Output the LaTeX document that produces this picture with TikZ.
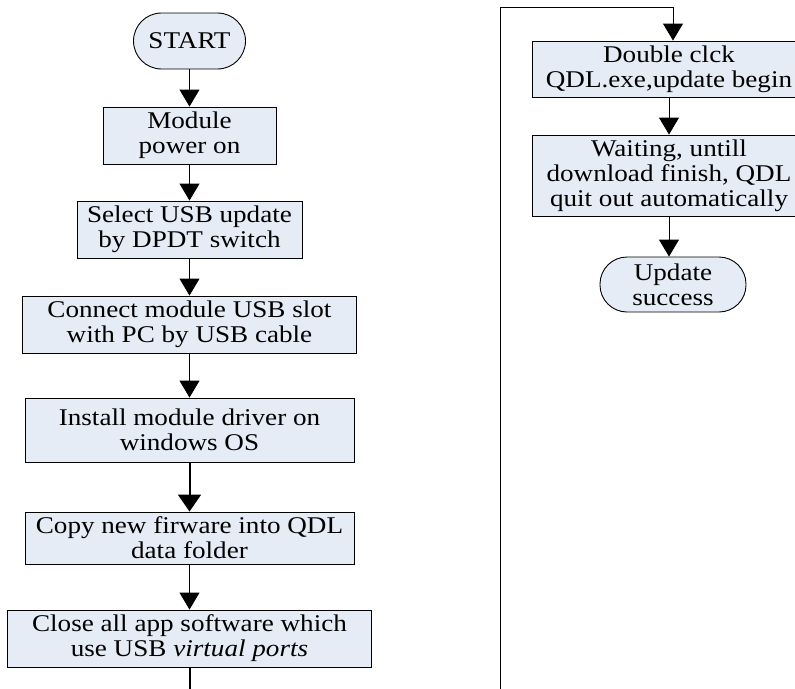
\documentclass[tikz,border=0pt]{standalone}
\usepackage{fontspec}
\setmainfont{Liberation Serif}[FakeStretch=1.13]
\usetikzlibrary{arrows.meta}
\definecolor{boxfill}{RGB}{230,236,246}
\begin{document}
\begin{tikzpicture}[x=1pt,y=-1pt,
  box/.style={draw=black, line width=0.9pt, fill=boxfill, inner sep=0pt,
    align=center, font=\fontsize{24}{25}\selectfont},
  term/.style={box, rounded corners=#1},
  term/.default=28pt,
  flowarrow/.style={line width=0.9pt, -{Triangle[width=20pt,length=17pt]}},
  heavyarrow/.style={line width=2pt, -{Triangle[width=23pt,length=17pt]}},
  plainline/.style={line width=0.9pt},
  heavyline/.style={line width=2pt}]
\useasboundingbox (0,0) rectangle (795,688);
\clip (0,0) rectangle (795,688);

% left column
\node[term=28pt, minimum width=112pt, minimum height=56pt] (start) at (189.5,41) {START};
\node[box, minimum width=173pt, minimum height=57pt] (power) at (189.5,135.5) {Module\\power on};
\node[box, minimum width=225pt, minimum height=57pt] (select) at (189.5,229.5) {Select USB update\\by DPDT switch};
\node[box, minimum width=334pt, minimum height=57pt] (connect) at (189.5,324.5) {Connect module USB slot\\with PC by USB cable};
\node[box, minimum width=329pt, minimum height=64pt] (install) at (189.5,430) {Install module driver on\\windows OS};
\node[box, minimum width=329pt, minimum height=52pt] (copy) at (189.5,538) {Copy new firware into QDL\\data folder};
\node[box, minimum width=364pt, minimum height=57pt] (close) at (189.5,638.5) {Close all app software which\\use USB \textit{virtual ports}};
\coordinate (lbottom) at (189.5,692);

\draw[flowarrow] (start.south) -- (power.north);
\draw[flowarrow] (power.south) -- (select.north);
\draw[flowarrow] (select.south) -- (connect.north);
\draw[flowarrow] (connect.south) -- (install.north);
\draw[heavyarrow] (install.south) -- (copy.north);
\draw[flowarrow] (copy.south) -- (close.north);
\draw[heavyline] (close.south) -- (lbottom);

% right column
\node[box, minimum width=274pt, minimum height=56pt] (dbl) at (669,69) {Double clck\\QDL.exe,update begin};
\node[box, minimum width=274pt, minimum height=81pt] (wait) at (669,175.5) {Waiting, untill\\download finish, QDL\\quit out automatically};
\node[term=27pt, minimum width=146pt, minimum height=55pt] (done) at (673,284.5) {Update\\success};
\coordinate (rbottom) at (500,692);
\coordinate (rtop) at (673,7);

\draw[flowarrow] (rbottom) |- (rtop) -- (rtop |- dbl.north);
\draw[flowarrow] (dbl.south) -- (wait.south |- wait.north);
\draw[flowarrow] (wait.south) -- (wait.south |- done.north);
\end{tikzpicture}
\end{document}
